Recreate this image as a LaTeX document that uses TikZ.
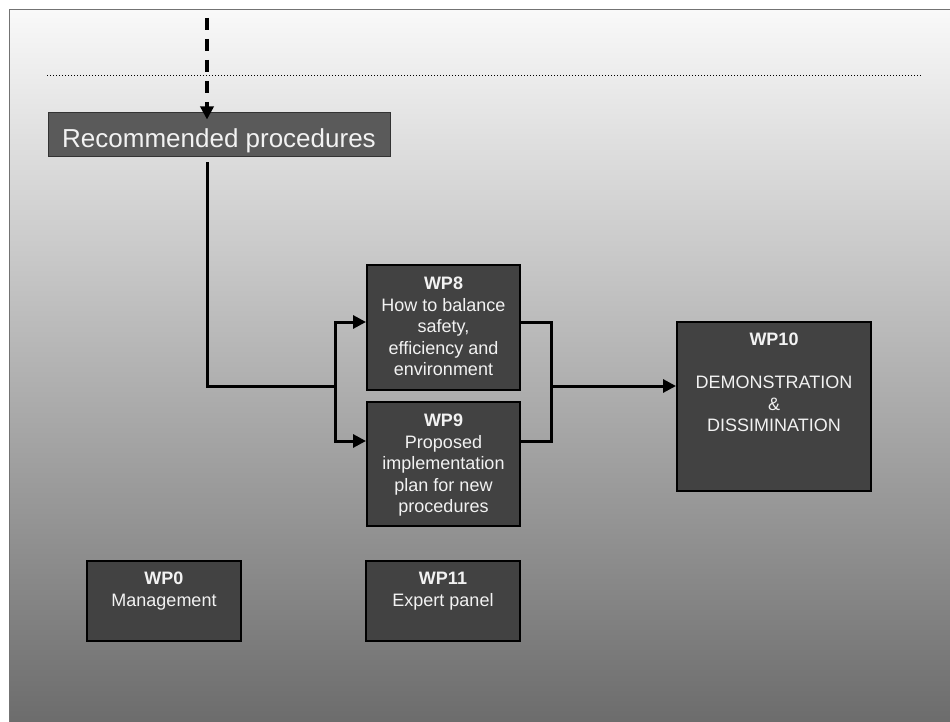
\documentclass[tikz,border=0pt]{standalone}
\usepackage{fontspec}
\setmainfont{Liberation Sans}
\usetikzlibrary{arrows.meta,calc}
\definecolor{boxfill}{HTML}{424242}
\definecolor{recfill}{HTML}{5A5A5A}
\definecolor{txt}{HTML}{F2F2F2}
\definecolor{bgtop}{HTML}{F9F9F9}
\definecolor{bgbot}{HTML}{6C6C6C}
\begin{document}
\begin{tikzpicture}[x=1pt,y=-1pt,
  wpbox/.style={draw=black, line width=2pt, fill=boxfill, inner sep=0pt, rectangle},
  recbox/.style={draw=black!80, line width=1pt, fill=recfill, inner sep=0pt, rectangle,
    text=txt, font=\fontsize{26}{30}\selectfont, text height=25pt, text depth=0pt},
  wptext/.style={text=txt, font=\fontsize{18}{21.5}\selectfont, align=center, anchor=north, inner sep=0pt},
  conn/.style={line width=3pt, draw=black},
  arr/.style={-{Triangle[length=13pt,width=13pt]}},
  dashconn/.style={line width=3.5pt, draw=black, dash pattern=on 12pt off 9pt}
]
\useasboundingbox (0,0) rectangle (950,722);
\fill[white] (0,0) rectangle (950,722);
\shade[top color=bgtop, bottom color=bgbot] (9,10) rectangle (951,723);
\draw[black!55, line width=1pt] (9,723) -- (9,10) -- (951,10);

% dotted separator
\coordinate (dl) at (47,76);
\coordinate (dr) at (922,76);
\draw[line width=1pt, dotted] (dl) -- (dr);

% nodes
\node[recbox, minimum width=342, minimum height=44] (rec) at (219,135) {Recommended procedures};

\node[wpbox, minimum width=153, minimum height=125] (wp8) at (443.5,327.5) {};
\node[wptext] (wp8t) at ($(wp8.north)+(0,13)$) {\textbf{WP8}\\How to balance\\safety,\\efficiency and\\environment};

\node[wpbox, minimum width=153, minimum height=124] (wp9) at (443.5,464) {};
\node[wptext] (wp9t) at ($(wp9.north)+(0,13)$) {\textbf{WP9}\\Proposed\\implementation\\plan for new\\procedures};

\node[wpbox, minimum width=194, minimum height=169] (wp10) at (774,406.5) {};
\node[wptext] (wp10t) at ($(wp10.north)+(0,12)$) {\textbf{WP10}\\[21.5pt]DEMONSTRATION\\\&\\DISSIMINATION};

\node[wpbox, minimum width=154, minimum height=80] (wp0) at (164,601) {};
\node[wptext] (wp0t) at ($(wp0.north)+(0,12)$) {\textbf{WP0}\\Management};

\node[wpbox, minimum width=154, minimum height=80] (wp11) at (443,601) {};
\node[wptext] (wp11t) at ($(wp11.north)+(0,12)$) {\textbf{WP11}\\Expert panel};

% connectors
\coordinate (dtop) at (207,18);
\draw[dashconn, arr, shorten >=-7pt] (dtop) -- (dtop |- rec.north);

\coordinate (s0) at ($(rec.south)+(-12,5)$);
\coordinate (j) at (335,386);
\draw[conn] (s0) |- (j);
\coordinate (a8) at ($(wp8.north west)+(0,58)$);
\coordinate (a9) at ($(wp9.north west)+(0,40)$);
\draw[conn, arr] (j) |- (a8);
\draw[conn, arr] (j) |- (a9);

\coordinate (b8) at ($(wp8.north east)+(0,58)$);
\coordinate (b9) at ($(wp9.north east)+(0,40)$);
\coordinate (k) at (551,386);
\draw[conn] (b8) -- (b8 -| k) -- (b9 -| k) -- (b9);
\draw[conn, arr] (k) -- (k -| wp10.west);
\end{tikzpicture}
\end{document}
